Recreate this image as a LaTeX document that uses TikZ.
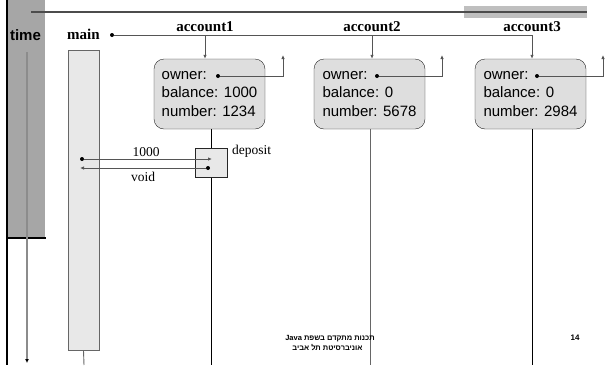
\documentclass[tikz,border=0pt]{standalone}
\usepackage{fontspec}
\setmainfont{Liberation Serif}
\setsansfont{Liberation Sans}
\newfontfamily\hebfont[Script=Hebrew]{Liberation Sans}
\TeXXeTstate=1
\usetikzlibrary{arrows.meta}
\definecolor{bandgray}{HTML}{A6A6A6}
\definecolor{boxgray}{HTML}{DEDEDE}
\definecolor{bargray}{HTML}{E8E8E8}
\definecolor{linegray}{HTML}{555555}

\begin{document}
\begin{tikzpicture}[x=1pt,y=-1pt,>={Latex[length=4pt,width=3.5pt]}]
  \useasboundingbox (0,0) rectangle (611,365);
  \tikzstyle{BoxStyle}=[draw=black!85,fill=boxgray,rounded corners=10pt,minimum width=111pt,minimum height=70pt,align=left,inner sep=0pt,font=\sffamily\fontsize{15}{18.5}\selectfont]
  \tikzstyle{NameStyle}=[font=\bfseries\fontsize{15}{18}\selectfont,inner sep=0pt]
  \tikzstyle{MsgStyle}=[font=\fontsize{13.5}{16}\selectfont,inner sep=0pt]
  \tikzstyle{DotStyle}=[circle,fill=black,inner sep=0pt,minimum size=4pt]
  \tikzstyle{EdgeStyle}=[draw=linegray,line width=0.8pt]
  \fill[bandgray] (8,0) rectangle (45,238);
  \fill[black!25] (464,6) rectangle (587,18);
  \draw[black!70,line width=1.8pt] (31,12) -- (587,12);
  \draw[black,line width=2pt] (7,0) -- (7,365);
  \draw[black,line width=2pt] (7,238) -- (46,238);
  \node[font=\sffamily\bfseries\fontsize{15}{18}\selectfont,inner sep=0pt] (time) at (25.5,35) {time};
  \coordinate (timeend) at (27,363);
  \draw[black!45,line width=1.5pt,-{Latex[length=4pt,width=4pt,color=black]}] (27,52) -- (timeend);
  \node[NameStyle] (main) at (83.5,34) {main};
  \node[NameStyle] (lbl1) at (205,27) {account1};
  \node[NameStyle] (lbl2) at (372,27) {account2};
  \node[NameStyle] (lbl3) at (532,27) {account3};
  \node[DotStyle] (mainref) at (112,35) {};
  \node[draw=black!60,fill=bargray,line width=1pt,minimum width=31pt,minimum height=300pt,inner sep=0pt] (mainbar) at (83.5,200) {};
  \node[BoxStyle] (acc1) at (209.5,94) {owner:\\balance: 1000\\number: 1234};
  \node[BoxStyle] (acc2) at (369.5,94) {owner:\\balance: 0\\number: 5678};
  \node[BoxStyle] (acc3) at (530.5,94) {owner:\\balance: 0\\number: 2984};
  \node[DotStyle] (own1) at (218,76) {};
  \node[DotStyle] (own2) at (377,76) {};
  \node[DotStyle] (own3) at (537,76) {};
  \coordinate (up1) at (283,55);
  \coordinate (up2) at (442,55);
  \coordinate (up3) at (603,55);
  \draw[EdgeStyle] (mainref) -- (lbl3 |- mainref);
  \draw[EdgeStyle,->] (lbl1 |- mainref) -- (lbl1 |- acc1.north);
  \draw[EdgeStyle,->] (lbl2 |- mainref) -- (lbl2 |- acc2.north);
  \draw[EdgeStyle,->] (lbl3 |- mainref) -- (lbl3 |- acc3.north);
  \draw[EdgeStyle,->] (own1) -| (up1);
  \draw[EdgeStyle,->] (own2) -| (up2);
  \draw[EdgeStyle,->] (own3) -| (up3);
  \node[draw=black!85,fill=bargray,line width=1pt,minimum width=32pt,minimum height=29pt,inner sep=0pt] (dep) at (211,162.5) {};
  \node[MsgStyle,anchor=west] (deplbl) at (232,151) {deposit};
  \coordinate (end0) at (84,365);
  \coordinate (end1) at (211,365);
  \coordinate (end2) at (370,365);
  \coordinate (end3) at (532,365);
  \draw[black,line width=0.9pt] (acc1.south -| dep) -- (dep.north);
  \draw[black,line width=0.9pt] (dep.south) -- (end1);
  \draw[black!60,line width=0.9pt] (acc2.south -| end2) -- (end2);
  \draw[black,line width=0.9pt] (acc3.south -| end3) -- (end3);
  \draw[black!60,line width=0.9pt] (mainbar.south) -- (end0);
  \node[DotStyle] (call) at (82,159) {};
  \coordinate (callend) at (212,159);
  \node[DotStyle] (ret) at (208,168) {};
  \coordinate (retend) at (80,168);
  \draw[EdgeStyle,->] (call) -- (callend);
  \draw[EdgeStyle,->] (ret) -- (retend);
  \node[MsgStyle] (arg) at (146,152) {1000};
  \node[MsgStyle] (res) at (143,177) {void};
  \node[font=\hebfont\bfseries\fontsize{7.5}{9}\selectfont,inner sep=0pt] (foot1) at (330,339) {\beginR תכנות מתקדם בשפת \beginL Java\endL\endR};
  \node[font=\hebfont\bfseries\fontsize{7.5}{9}\selectfont,inner sep=0pt] (foot2) at (327.5,348) {\beginR אוניברסיטת תל אביב\endR};
  \node[font=\sffamily\bfseries\fontsize{8}{9}\selectfont,inner sep=0pt] (page) at (575,338) {14};
\end{tikzpicture}
\end{document}
